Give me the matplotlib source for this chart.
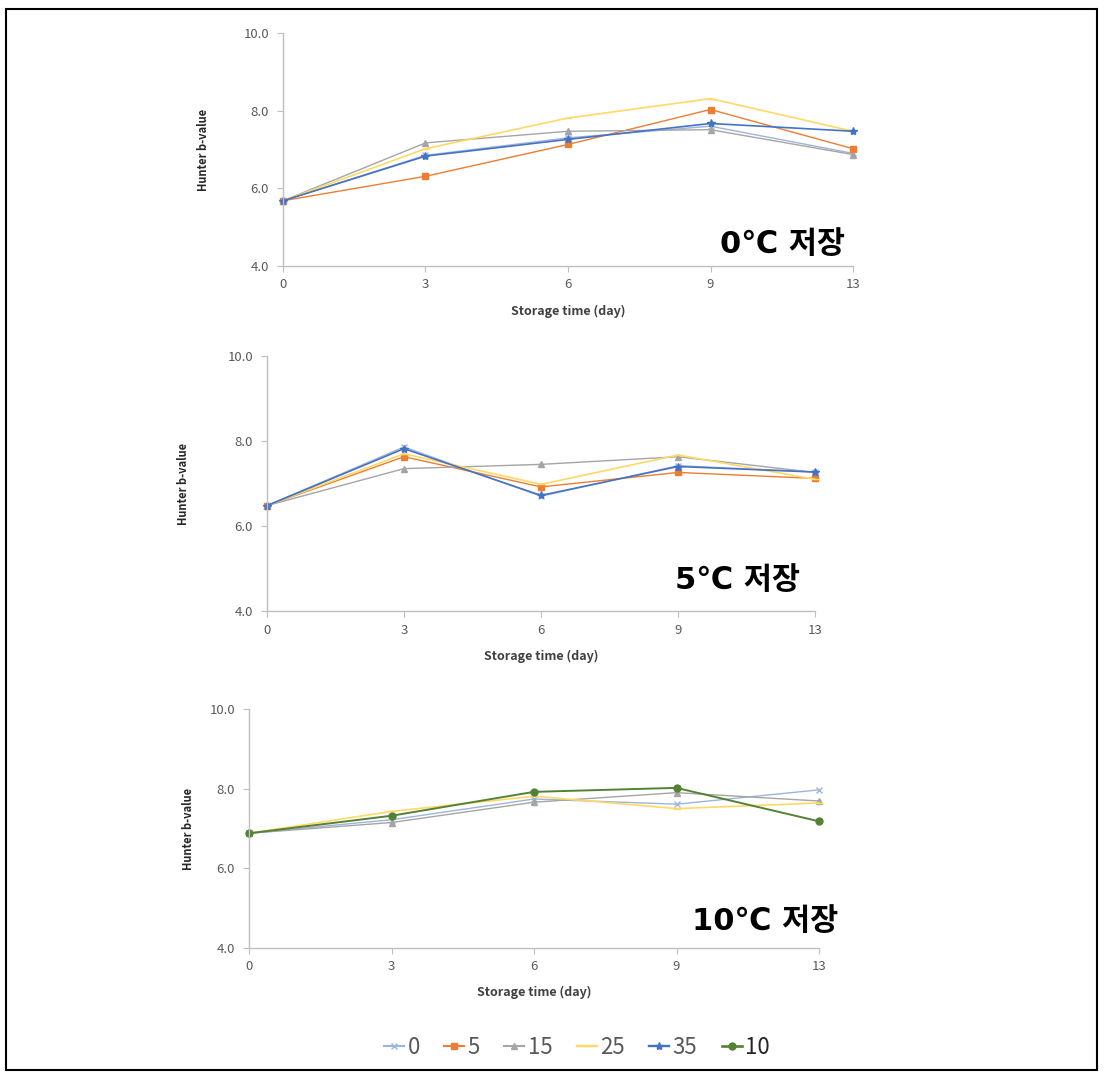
import numpy as np
import matplotlib
matplotlib.use('Agg')
import matplotlib.pyplot as plt
from matplotlib.lines import Line2D

plt.rcParams['font.family'] = ['Noto Sans CJK KR', 'DejaVu Sans']

days = ['0', '3', '6', '9', '13']
yticks = [4.0, 6.0, 8.0, 10.0]

# 0°C 저장
top_0 = [5.68, 6.85, 7.30, 7.60, 6.90]
top_5 = [5.68, 6.31, 7.13, 8.03, 7.02]
top_15 = [5.68, 7.17, 7.47, 7.51, 6.87]
top_25 = [5.68, 7.02, 7.81, 8.31, 7.47]
top_35 = [5.68, 6.83, 7.26, 7.67, 7.47]

# 5°C 저장
mid_0 = [6.48, 7.86, 6.70, 7.42, 7.27]
mid_5 = [6.48, 7.63, 6.92, 7.26, 7.12]
mid_15 = [6.48, 7.35, 7.45, 7.63, 7.26]
mid_25 = [6.48, 7.70, 6.98, 7.67, 7.10]
mid_35 = [6.48, 7.82, 6.72, 7.40, 7.27]

# 10°C 저장
bot_0 = [6.88, 7.22, 7.74, 7.61, 7.97]
bot_15 = [6.88, 7.15, 7.66, 7.90, 7.69]
bot_25 = [6.88, 7.43, 7.81, 7.50, 7.64]
bot_10 = [6.88, 7.32, 7.92, 8.02, 7.18]

legend_labels = ['0', '5', '15', '25', '35', '10']

styles = {
    '0': dict(color='#9DB5DC', marker='x', ms=4, lw=1.0),
    '5': dict(color='#ED7D31', marker='s', ms=5, lw=1.0),
    '15': dict(color='#A5A5A5', marker='^', ms=5, lw=1.0),
    '25': dict(color='#FFD966', marker='_', ms=6, lw=1.2),
    '35': dict(color='#4472C4', marker='*', ms=6, lw=1.2),
    '10': dict(color='#548235', marker='o', ms=5, lw=1.4),
}

W, H = 1104, 1073
fig = plt.figure(figsize=(W / 100, H / 100), dpi=100)

# outer frame
fig.add_artist(plt.Rectangle((6 / W, 1 - 1070 / H), 1091 / W, 1061 / H,
                             transform=fig.transFigure, fill=False,
                             edgecolor='black', lw=1.5))

panels = [
    # axes box in pixels (left, right, top, bottom), title, title pos, ylabel x, xlabel y
    ((283, 853, 33, 266), '0℃ 저장', (0.986, 0.094), -0.139, -0.193,
     [('0', top_0), ('5', top_5), ('15', top_15), ('25', top_25), ('35', top_35)]),
    ((267, 815, 356, 611), '5℃ 저장', (0.973, 0.12), -0.153, -0.18,
     [('0', mid_0), ('5', mid_5), ('15', mid_15), ('25', mid_25), ('35', mid_35)]),
    ((249, 819, 709, 948), '10℃ 저장', (1.033, 0.109), -0.107, -0.184,
     [('0', bot_0), ('15', bot_15), ('25', bot_25), ('10', bot_10)]),
]

x = np.arange(len(days))
for (l, r, t, b), title, tpos, ylx, xly, series in panels:
    ax = fig.add_axes([l / W, 1 - b / H, (r - l) / W, (b - t) / H])
    for name, vals in series:
        st = styles[name]
        ax.plot(x, vals, color=st['color'], marker=st['marker'],
                markersize=st['ms'], lw=st['lw'], clip_on=False)
    ax.set_xlim(0, len(days) - 1)
    ax.set_ylim(4, 10)
    ax.set_xticks(x)
    ax.set_xticklabels(days)
    ax.set_yticks(yticks)
    ax.set_yticklabels([f'{v:.1f}' for v in yticks])
    for s in ['top', 'right']:
        ax.spines[s].set_visible(False)
    for s in ['left', 'bottom']:
        ax.spines[s].set_color('#BFBFBF')
        ax.spines[s].set_linewidth(1.0)
    ax.tick_params(colors='#BFBFBF', labelcolor='#595959', labelsize=9.5,
                   length=4, direction='out')
    ax.tick_params(axis='x', pad=5)
    ax.tick_params(axis='y', pad=6)
    ax.set_ylabel('Hunter b-value', fontsize=8, fontweight='bold',
                  color='#262626', va='center')
    ax.yaxis.set_label_coords(ylx, 0.5)
    ax.set_xlabel('Storage time (day)', fontsize=9, fontweight='bold',
                  color='#404040', va='center')
    ax.xaxis.set_label_coords(0.5, xly)
    ax.text(tpos[0], tpos[1], title, transform=ax.transAxes, ha='right',
            va='center', fontsize=22, fontweight='bold', color='black',
            family=['DejaVu Sans', 'Noto Sans CJK KR'])

handles = []
for name in legend_labels:
    st = styles[name]
    handles.append(Line2D([], [], color=st['color'], marker=st['marker'],
                          markersize=st['ms'], lw=st['lw'] + 0.5))
leg = fig.legend(handles, legend_labels, loc='center', ncol=6,
                 bbox_to_anchor=(577 / W, 1 - 1047 / H), frameon=False,
                 fontsize=16, handlelength=0.9, handletextpad=0.15,
                 columnspacing=1.1)
for txt, name in zip(leg.get_texts(), legend_labels):
    txt.set_color('#262626' if name == '10' else '#595959')

fig.savefig('out.png', dpi=100, facecolor='white')
